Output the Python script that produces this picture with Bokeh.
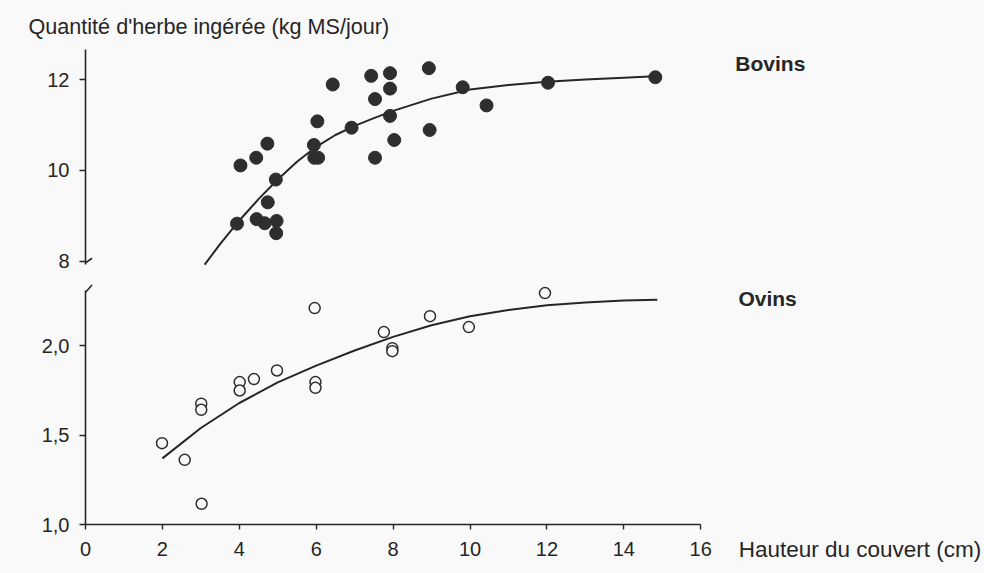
from bokeh.plotting import figure
from bokeh.models import Range1d, LinearAxis, FixedTicker, Label, CustomJSTickFormatter
from bokeh.layouts import column, row
from bokeh.embed import file_html
from bokeh.resources import INLINE

# ---- data ----
bov_x = [4.03, 4.44, 4.73, 3.94, 4.45, 4.66, 4.97, 4.96, 4.74, 4.95, 5.94, 5.95, 6.05, 6.03,
         6.43, 6.92, 7.43, 7.92, 7.53, 7.92, 7.92, 8.03, 7.53, 8.93, 9.81, 10.43, 8.95, 12.03, 14.82]
bov_y = [10.11, 10.28, 10.59, 8.83, 8.93, 8.84, 8.89, 8.62, 9.30, 9.80, 10.56, 10.28, 10.28, 11.08,
         11.89, 10.94, 12.08, 12.14, 11.57, 11.80, 11.20, 10.67, 10.28, 12.25, 11.83, 11.43, 10.89, 11.93, 12.05]
bov_fit_x = [3.1, 3.5, 4.0, 4.5, 5.0, 5.5, 6.0, 6.5, 7.0, 7.5, 8.0, 9.0, 10.0, 11.0, 12.0, 13.0, 14.0, 14.8]
bov_fit_y = [7.93, 8.38, 8.90, 9.37, 9.80, 10.19, 10.52, 10.78, 10.98, 11.15, 11.31, 11.58, 11.78, 11.88, 11.95, 12.0, 12.04, 12.07]

ov_x = [1.99, 2.58, 3.01, 3.01, 3.02, 4.01, 4.01, 4.38, 4.98, 5.96, 5.98, 5.98, 7.76, 7.98, 7.98, 8.96, 9.97, 11.95]
ov_y = [1.455, 1.362, 1.676, 1.642, 1.116, 1.797, 1.750, 1.814, 1.862, 2.211, 1.797, 1.765, 2.077, 1.987, 1.970, 2.166, 2.105, 2.295]
ov_fit_x = [2.0, 3.0, 4.0, 5.0, 6.0, 7.0, 8.0, 9.0, 10.0, 11.0, 12.0, 13.0, 14.0, 14.87]
ov_fit_y = [1.37, 1.54, 1.68, 1.795, 1.889, 1.974, 2.05, 2.115, 2.165, 2.20, 2.227, 2.243, 2.253, 2.258]

x_ticks = [0, 2, 4, 6, 8, 10, 12, 14, 16]
bov_ticks = [8, 10, 12]
ov_ticks = [1.0, 1.5, 2.0]

title_text = "Quantité d'herbe ingérée (kg MS/jour)"
x_label = "Hauteur du couvert (cm)"

INK = "#262626"
BG = "#f9f9f9"
FONT = "Liberation Sans"

PX_PER_CM = 38.45          # horizontal scale shared by all panels
LEFT = 85
W_FULL = 984
W_LOW = 725
P3_LEFT = 10
X_SPLIT = (W_LOW - LEFT) / PX_PER_CM
X_P3 = (W_LOW + P3_LEFT - LEFT) / PX_PER_CM
X_END = (W_FULL - LEFT) / PX_PER_CM

def style_axis(ax):
    ax.axis_line_color = INK
    ax.axis_line_width = 1.6
    ax.major_tick_line_color = INK
    ax.major_tick_line_width = 1.4
    ax.minor_tick_line_color = None
    ax.major_tick_in = 0
    ax.major_tick_out = 6
    ax.major_label_text_font = FONT
    ax.major_label_text_font_size = "20px"
    ax.major_label_text_color = INK

def base_fig(width, height, x_range, y_range, left, top, bottom):
    p = figure(width=width, height=height, x_range=x_range, y_range=y_range,
               output_backend="svg", toolbar_location=None,
               x_axis_location=None, y_axis_location=None,
               min_border_left=left, min_border_right=0,
               min_border_top=top, min_border_bottom=bottom)
    p.background_fill_color = BG
    p.border_fill_color = BG
    p.outline_line_color = None
    p.grid.visible = False
    return p

# ---- upper panel: Bovins ----
p1 = base_fig(W_FULL, 278, Range1d(0, X_END), Range1d(7.8, 12.66), LEFT, 49, 8)
p1.title.text = title_text
p1.title.align = "left"
p1.title.offset = -57
p1.title.standoff = 22
p1.title.text_font = FONT
p1.title.text_font_size = "21.6px"
p1.title.text_font_style = "normal"
p1.title.text_color = INK
ay1 = LinearAxis(ticker=FixedTicker(ticks=bov_ticks), bounds=(7.93, 12.66))
style_axis(ay1)
ay1.major_label_standoff = 10
p1.add_layout(ay1, "left")
p1.line(bov_fit_x, bov_fit_y, line_color=INK, line_width=2)
p1.scatter(bov_x, bov_y, size=13, fill_color="#2e2e2e", line_color="#2e2e2e")
p1.segment(x0=[-0.2], y0=[7.85], x1=[0.17], y1=[8.07], line_color=INK, line_width=1.6)
p1.add_layout(Label(x=16.9, y=12.35, text="Bovins", text_font=FONT, text_font_style="bold",
                    text_font_size="21px", text_baseline="middle", text_color=INK))

# ---- lower panel: Ovins ----
p2 = base_fig(W_LOW, 295, Range1d(0, X_SPLIT), Range1d(1.0, 2.36), LEFT, 3, 49)
ay2 = LinearAxis(ticker=FixedTicker(ticks=ov_ticks), bounds=(1.0, 2.31),
                 formatter=CustomJSTickFormatter(code="return tick.toFixed(1).replace('.', ',');"))
style_axis(ay2)
ay2.major_label_standoff = 10
p2.add_layout(ay2, "left")
ax2 = LinearAxis(ticker=FixedTicker(ticks=x_ticks), bounds=(0, 16))
style_axis(ax2)
ax2.major_tick_out = 5
ax2.major_label_standoff = 12
p2.add_layout(ax2, "below")
p2.line(ov_fit_x, ov_fit_y, line_color=INK, line_width=2)
p2.scatter(ov_x, ov_y, size=11, fill_color=BG, line_color="#2e2e2e", line_width=1.5)
p2.segment(x0=[-0.08], y0=[2.28], x1=[0.17], y1=[2.34], line_color=INK, line_width=1.6)

# ---- right strip of the lower panel: series name and x-axis title ----
p3 = base_fig(W_FULL - W_LOW, 295, Range1d(X_P3, X_END), Range1d(1.0, 2.36), P3_LEFT, 3, 49)
p3.add_layout(Label(x=16.98, y=2.265, text="Ovins", text_font=FONT, text_font_style="bold",
                    text_font_size="21px", text_baseline="middle", text_color=INK))
ax3 = LinearAxis(ticker=FixedTicker(ticks=[]), axis_label=x_label)
ax3.axis_line_color = None
ax3.major_tick_line_color = None
ax3.minor_tick_line_color = None
ax3.axis_label_text_font = FONT
ax3.axis_label_text_font_size = "22.5px"
ax3.axis_label_text_font_style = "normal"
ax3.axis_label_text_color = INK
ax3.axis_label_standoff = 12
p3.add_layout(ax3, "below")

layout = column(p1, row(p2, p3, spacing=0), spacing=0)
layout.styles = {"background-color": BG}
open("out.html", "w").write(file_html(layout, INLINE))
